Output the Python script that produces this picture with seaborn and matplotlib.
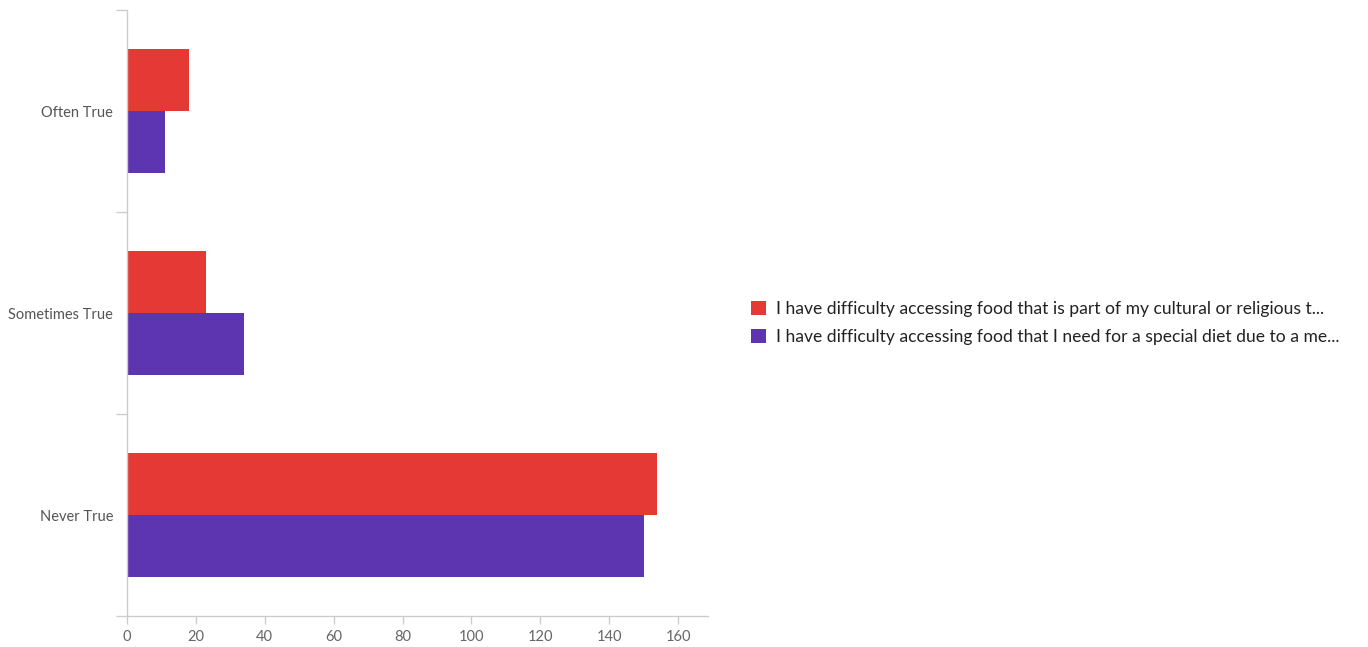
import matplotlib
matplotlib.use("Agg")
import matplotlib.pyplot as plt
import seaborn as sns
import pandas as pd
from matplotlib.ticker import FixedLocator

categories = ["Often True", "Sometimes True", "Never True"]
series_names = [
    "I have difficulty accessing food that is part of my cultural or religious t...",
    "I have difficulty accessing food that I need for a special diet due to a me...",
]
cultural = [18, 23, 154]
special_diet = [11, 34, 150]
x_ticks = [0, 20, 40, 60, 80, 100, 120, 140, 160]
colors = ["#E53935", "#5E35B1"]

df = pd.DataFrame({
    "category": categories * 2,
    "series": [series_names[0]] * 3 + [series_names[1]] * 3,
    "value": cultural + special_diet,
})

sns.set_theme(style="white")
plt.rcParams["font.family"] = ["Lato", "DejaVu Sans"]

fig = plt.figure(figsize=(13.68, 6.47), dpi=100)
W, H = 1368, 647
ax = fig.add_axes([127 / W, 1 - 616 / H, (708 - 127) / W, (616 - 10) / H])

sns.barplot(data=df, y="category", x="value", hue="series", order=categories,
            hue_order=series_names, palette=colors, orient="h", width=0.614,
            saturation=1, ax=ax, legend=True, linewidth=0, edgecolor="none")

ax.set_xlim(0, 168.7)
ax.set_ylim(2.5, -0.5)
ax.set_xlabel("")
ax.set_ylabel("")
ax.set_xticks(x_ticks)
ax.set_xticklabels([str(t) for t in x_ticks])
ax.tick_params(axis="x", length=6, width=1, color="#cccccc", labelsize=10.5,
               labelcolor="#666666", pad=4, bottom=True)
ax.tick_params(axis="y", which="major", length=0, labelsize=10.5,
               labelcolor="#555555", pad=10)
ax.yaxis.set_minor_locator(FixedLocator([-0.5, 0.5, 1.5, 2.5]))
ax.tick_params(axis="y", which="minor", length=8, width=1, color="#cccccc", left=True)

for s in ["top", "right"]:
    ax.spines[s].set_visible(False)
for s in ["left", "bottom"]:
    ax.spines[s].set_color("#cccccc")
    ax.spines[s].set_linewidth(1)

handles, labels = ax.get_legend_handles_labels()
ax.get_legend().remove()
fig.legend(handles, labels, loc="center left",
           bbox_to_anchor=(735 / W, 1 - 323 / H), frameon=False,
           fontsize=12.6, handlelength=0.88, handleheight=0.88, handletextpad=0.55,
           labelspacing=0.68, labelcolor="#222222")

fig.savefig("out.png", dpi=100)
